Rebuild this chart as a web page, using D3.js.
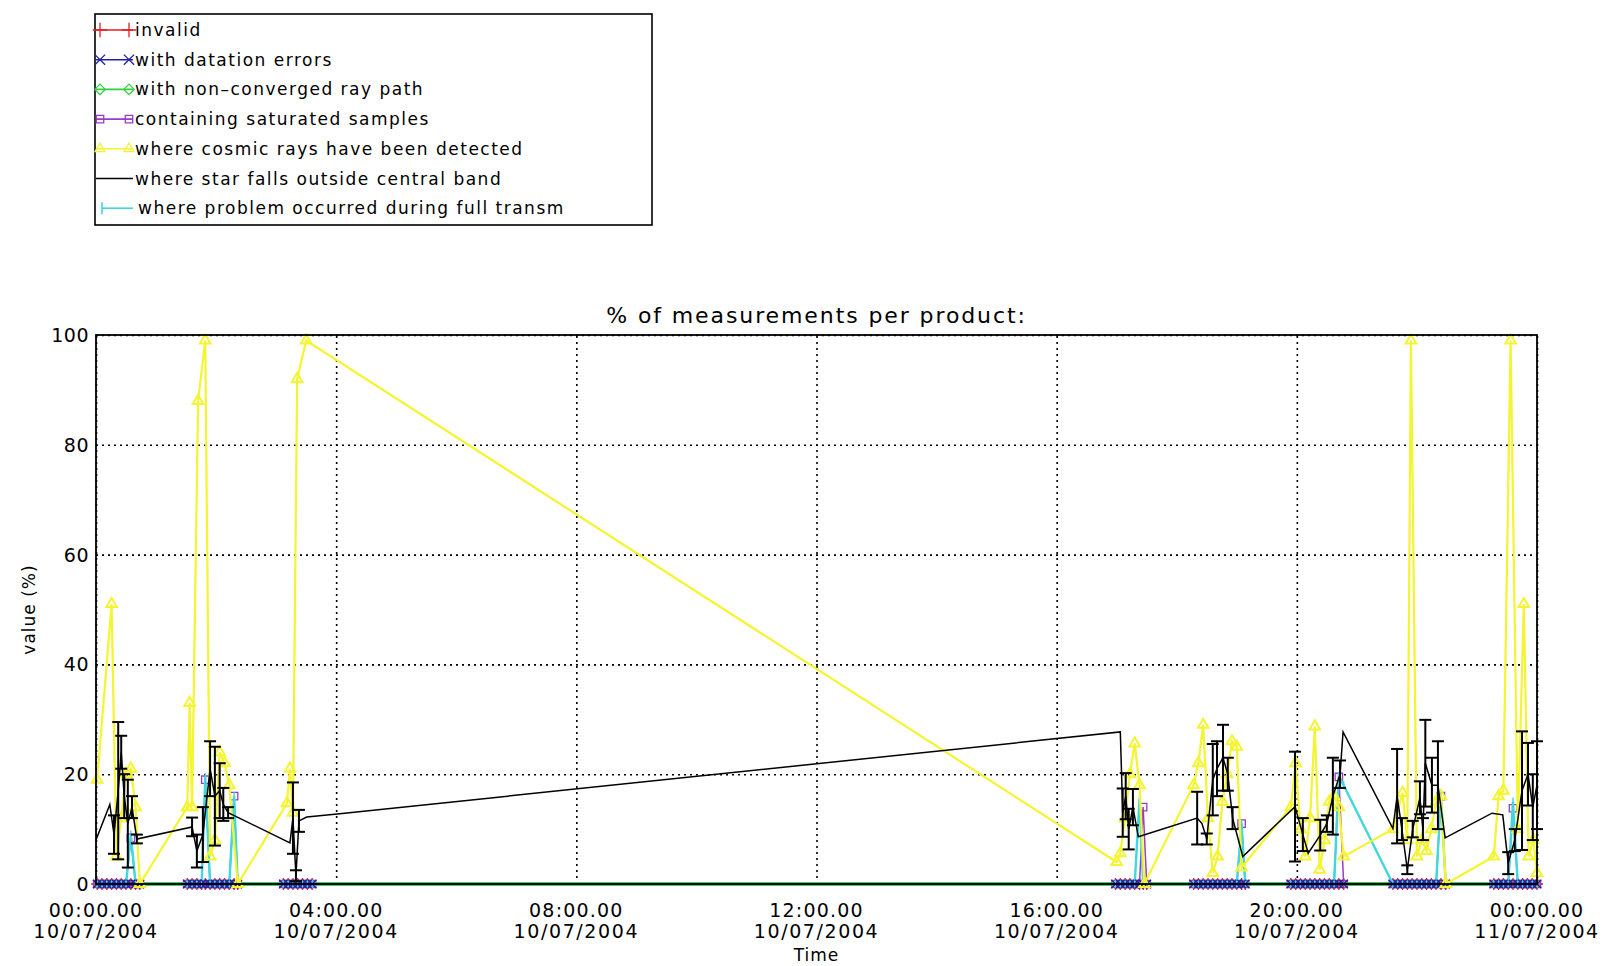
<!DOCTYPE html>
<html>
<head>
<meta charset="utf-8">
<script src="https://cdn.jsdelivr.net/npm/d3@7"></script>
<style>
  body { margin: 0; background: #fff; }
  text { font-family: "DejaVu Sans", sans-serif; fill: #000; }
</style>
</head>
<body>
<div id="root"></div>
<script>
const width = 1607,
      height = 966

// axis labels
const tickHours = [0, 4, 8, 12, 16, 20, 24]
const tickClock = ['00:00.00', '04:00.00', '08:00.00', '12:00.00', '16:00.00', '20:00.00', '00:00.00']
const tickDay = ['10/07/2004', '10/07/2004', '10/07/2004', '10/07/2004', '10/07/2004', '10/07/2004', '11/07/2004']
const valueTicks = [0, 20, 40, 60, 80, 100]

// hours of each product (invalid / datation / ray path read 0 everywhere)
const sampleHours = [
  0.02, 0.10, 0.18, 0.26, 0.34, 0.42, 0.50, 0.58, 0.66, 0.73,
  1.52, 1.60, 1.68, 1.76, 1.82, 1.90, 1.98, 2.06, 2.14, 2.22, 2.30, 2.36,
  3.12, 3.20, 3.28, 3.36, 3.44, 3.52, 3.60,
  16.98, 17.06, 17.14, 17.22, 17.30, 17.38, 17.44, 17.50,
  18.28, 18.36, 18.44, 18.52, 18.60, 18.68, 18.76, 18.84, 18.92, 19.00, 19.08, 19.14,
  19.90, 19.98, 20.06, 20.14, 20.22, 20.30, 20.38, 20.46, 20.54, 20.62, 20.70, 20.78,
  21.60, 21.68, 21.76, 21.84, 21.92, 22.00, 22.08, 22.16, 22.24, 22.32, 22.40, 22.48,
  23.28, 23.36, 23.44, 23.52, 23.60, 23.68, 23.76, 23.84, 23.92, 24.00
]

// non-zero products, [hour, %]
const saturatedPeaks = [[0.58, 8.4], [1.82, 19], [2.30, 16], [17.44, 14], [19.08, 11], [20.70, 19.5], [22.40, 16], [23.60, 13.8]]
const transmPeaks = [[0.58, 9], [1.82, 19.5], [2.30, 16], [17.38, 15.5], [19.08, 11], [20.70, 19.7], [20.78, 18], [22.40, 16], [23.60, 15]]

// cosmic rays, [hour, %]
const cosmicRays = [
  [0.02, 19], [0.26, 51], [0.34, 5], [0.42, 12], [0.50, 20], [0.58, 21], [0.66, 14], [0.73, 0],
  [1.52, 14], [1.56, 33], [1.60, 14], [1.70, 88], [1.82, 99], [1.90, 5], [1.98, 8], [2.06, 24], [2.14, 22], [2.22, 18], [2.36, 0],
  [3.18, 14.7], [3.23, 21], [3.28, 13], [3.35, 92], [3.50, 99],
  [17.0, 4], [17.06, 5.6], [17.14, 12], [17.22, 20], [17.30, 25.6], [17.38, 18], [17.46, 0],
  [18.28, 18], [18.36, 22], [18.44, 29], [18.52, 12], [18.60, 2], [18.68, 5], [18.76, 15], [18.84, 20], [18.92, 26], [19.00, 25], [19.08, 3],
  [19.90, 14], [19.98, 22], [20.06, 10], [20.14, 5], [20.22, 12], [20.30, 28.7], [20.38, 2.6], [20.46, 8], [20.54, 15], [20.62, 16], [20.70, 14], [20.78, 5],
  [21.60, 10], [21.76, 16.6], [21.84, 8], [21.90, 99], [22.00, 5], [22.08, 8], [22.16, 6], [22.24, 10], [22.32, 15], [22.40, 16], [22.48, 0],
  [23.28, 5], [23.36, 16], [23.44, 17], [23.56, 99], [23.68, 10], [23.78, 51], [23.86, 5], [23.94, 8], [24.0, 2]
]

// star outside central band, [hour, %, error]
const starOutside = [
  [0.00, 8.0, 0], [0.23, 14.5, 0], [0.30, 9.0, 3.5], [0.37, 17.0, 12.5], [0.42, 24.0, 3.0], [0.47, 16.0, 4.0],
  [0.53, 11.0, 8.0], [0.60, 14.0, 2.0], [0.68, 8.2, 0.8],
  [1.60, 10.4, 1.7], [1.68, 6.0, 3.0], [1.78, 9.0, 5.0], [1.90, 21.0, 5.0], [1.98, 16.0, 9.0], [2.06, 17.0, 5.0],
  [2.12, 14.5, 3.0], [2.20, 13.0, 1.0],
  [3.23, 7.5, 0], [3.28, 12.0, 6.5], [3.33, 1.5, 1.0], [3.38, 11.5, 2.0], [3.51, 12.2, 0], [4.06, 12.8, 0],
  [17.06, 27.7, 0], [17.10, 13.0, 4.4], [17.15, 16.0, 4.2], [17.20, 10.0, 3.7], [17.27, 14.0, 3.3], [17.36, 8.6, 0],
  [18.34, 12.0, 4.8], [18.42, 11.0, 0], [18.50, 8.2, 1.0], [18.60, 19.0, 6.5], [18.67, 21.0, 5.0], [18.77, 23.0, 6.0],
  [18.85, 20.0, 3.0], [18.93, 12.0, 2.0], [19.10, 5.0, 0],
  [19.97, 14.1, 10.0], [20.10, 9.0, 3.0], [20.19, 5.6, 0], [20.39, 8.9, 2.8], [20.50, 11.0, 1.5], [20.60, 16.0, 7.0],
  [20.72, 20.0, 2.5], [20.77, 27.7, 0],
  [21.60, 10.1, 0], [21.67, 16.0, 8.6], [21.75, 10.0, 2.0], [21.84, 2.6, 0.8], [21.93, 10.0, 1.5], [22.05, 15.7, 3.0],
  [22.10, 10.0, 2.0], [22.14, 22.0, 7.9], [22.25, 18.0, 5.0], [22.35, 18.0, 8.0], [22.47, 8.4, 0],
  [23.25, 12.9, 0], [23.43, 12.6, 0], [23.52, 3.8, 2.0], [23.63, 8.0, 2.0], [23.75, 17.0, 10.8], [23.85, 20.0, 5.7],
  [23.93, 14.0, 6.0], [24.0, 18.0, 8.0]
]

const legendLabels = [
  'invalid',
  'with datation errors',
  'with non\u2013converged ray path',
  'containing saturated samples',
  'where cosmic rays have been detected',
  'where star falls outside central band',
  'where problem occurred during full transm'
]

const colors = {
  invalid: '#e02020',
  datation: '#2020a0',
  raypath: '#30d040',
  saturated: '#9a3cc8',
  cosmic: '#f4f430',
  star: '#000000',
  transm: '#40d8e0'
}

const margin = { left: 96, right: 70, top: 335, bottom: 82 }

const svg = d3.select('#root')
  .append('svg')
  .attr('width', width)
  .attr('height', height)

const x = d3.scaleLinear()
  .domain([0, 24])
  .range([margin.left, width - margin.right])

const y = d3.scaleLinear()
  .domain([0, 100])
  .range([height - margin.bottom, margin.top])

// grid
svg.append('g')
  .attr('transform', `translate(0,${y(0)})`)
  .call(d3.axisBottom(x).tickValues(tickHours).tickSize(-(y(0) - y(100))).tickFormat(''))
  .call(g => g.select('.domain').remove())
  .selectAll('line')
  .attr('stroke', '#000')
  .attr('stroke-width', 1.6)
  .attr('stroke-dasharray', '2,4')

svg.append('g')
  .attr('transform', `translate(${x(0)},0)`)
  .call(d3.axisLeft(y).tickValues(valueTicks).tickSize(-(x(24) - x(0))).tickFormat(''))
  .call(g => g.select('.domain').remove())
  .selectAll('line')
  .attr('stroke', '#000')
  .attr('stroke-width', 1.6)
  .attr('stroke-dasharray', '2,4')

// tick labels
svg.append('g').selectAll('text')
  .data(valueTicks)
  .enter().append('text')
  .attr('x', x(0) - 7)
  .attr('y', d => y(d) + 7)
  .attr('text-anchor', 'end')
  .attr('font-size', 19)
  .attr('letter-spacing', 0.5)
  .text(d => d)

const xl = svg.append('g').selectAll('g')
  .data(tickHours)
  .enter().append('g')
  .attr('transform', d => `translate(${x(d)},0)`)
xl.append('text')
  .attr('y', 917)
  .attr('text-anchor', 'middle')
  .attr('font-size', 19)
  .attr('letter-spacing', 1.2)
  .text((d, i) => tickClock[i])
xl.append('text')
  .attr('y', 938)
  .attr('text-anchor', 'middle')
  .attr('font-size', 19)
  .attr('letter-spacing', 1.6)
  .text((d, i) => tickDay[i])

svg.append('text')
  .attr('x', (x(0) + x(24)) / 2)
  .attr('y', 961)
  .attr('text-anchor', 'middle')
  .attr('font-size', 17)
  .attr('letter-spacing', 1)
  .text('Time')

svg.append('text')
  .attr('transform', `translate(35,${(y(0) + y(100)) / 2}) rotate(-90)`)
  .attr('text-anchor', 'middle')
  .attr('font-size', 17)
  .attr('letter-spacing', 1)
  .text('value (%)')

svg.append('text')
  .attr('x', (x(0) + x(24)) / 2)
  .attr('y', 323)
  .attr('text-anchor', 'middle')
  .attr('font-size', 22)
  .attr('letter-spacing', 1.9)
  .text('% of measurements per product:')

// series
const line = d3.line().x(d => x(d[0])).y(d => y(d[1]))
const plot = svg.append('g')

const peakOf = peaks => {
  const m = new Map(peaks)
  return sampleHours.map(h => [h, m.has(h) ? m.get(h) : 0])
}
const zeroSeries = sampleHours.map(h => [h, 0])

const symbols = {
  invalid: d3.symbolPlus,
  datation: d3.symbolTimes,
  raypath: d3.symbolDiamond2,
  saturated: d3.symbolSquare2,
  cosmic: d3.symbolTriangle2
}

function drawSeries(data, key, lw, size) {
  plot.append('path')
    .datum(data)
    .attr('fill', 'none')
    .attr('stroke', colors[key])
    .attr('stroke-width', lw)
    .attr('d', line)
  if (symbols[key]) {
    plot.append('g').selectAll('path')
      .data(data)
      .enter().append('path')
      .attr('transform', d => `translate(${x(d[0])},${y(d[1])})`)
      .attr('d', d3.symbol(symbols[key], size))
      .attr('fill', 'none')
      .attr('stroke', colors[key])
      .attr('stroke-width', key === 'cosmic' ? 2 : 1.3)
  }
}

drawSeries(zeroSeries, 'raypath', 4, 50)
drawSeries(zeroSeries, 'invalid', 2, 50)
drawSeries(peakOf(saturatedPeaks), 'saturated', 1.5, 70)

// transmission problems (cyan), over the saturated line
const transm = peakOf(transmPeaks)
plot.append('path')
  .datum(transm)
  .attr('fill', 'none')
  .attr('stroke', colors.transm)
  .attr('stroke-width', 2.4)
  .attr('d', line)
plot.append('g').selectAll('line')
  .data(transm)
  .enter().append('line')
  .attr('x1', d => x(d[0])).attr('x2', d => x(d[0]))
  .attr('y1', d => y(d[1]) - 4).attr('y2', d => y(d[1]) + 4)
  .attr('stroke', colors.transm)
  .attr('stroke-width', 1.5)

drawSeries(zeroSeries, 'datation', 2.2, 50)
drawSeries(cosmicRays, 'cosmic', 2.2, 80)

// black line with error bars
plot.append('path')
  .datum(starOutside)
  .attr('fill', 'none')
  .attr('stroke', colors.star)
  .attr('stroke-width', 1.5)
  .attr('d', line)

const eb = plot.append('g').selectAll('g')
  .data(starOutside.filter(d => d[2] > 0))
  .enter().append('g')
  .attr('stroke', colors.star)
  .attr('stroke-width', 2)
eb.append('line')
  .attr('x1', d => x(d[0])).attr('x2', d => x(d[0]))
  .attr('y1', d => y(d[1] - d[2])).attr('y2', d => y(d[1] + d[2]))
eb.append('line')
  .attr('x1', d => x(d[0]) - 6).attr('x2', d => x(d[0]) + 6)
  .attr('y1', d => y(d[1] + d[2])).attr('y2', d => y(d[1] + d[2]))
eb.append('line')
  .attr('x1', d => x(d[0]) - 6).attr('x2', d => x(d[0]) + 6)
  .attr('y1', d => y(d[1] - d[2])).attr('y2', d => y(d[1] - d[2]))

// frame
svg.append('rect')
  .attr('x', x(0)).attr('y', y(100))
  .attr('width', x(24) - x(0)).attr('height', y(0) - y(100))
  .attr('fill', 'none')
  .attr('stroke', '#000')
  .attr('stroke-width', 1.8)

// legend
const legend = svg.append('g')
legend.append('rect')
  .attr('x', 95).attr('y', 14)
  .attr('width', 557).attr('height', 211)
  .attr('fill', 'none')
  .attr('stroke', '#000')
  .attr('stroke-width', 1.6)

const legendKeys = ['invalid', 'datation', 'raypath', 'saturated', 'cosmic', 'star', 'transm']
const rows = legend.selectAll('g.row')
  .data(legendKeys)
  .enter().append('g')
  .attr('class', 'row')
  .attr('transform', (d, i) => `translate(0,${30 + i * 29.7})`)

rows.append('line')
  .attr('x1', d => d === 'transm' ? 102 : 96).attr('x2', 133)
  .attr('stroke', d => colors[d])
  .attr('stroke-width', 1.6)
rows.each(function (d) {
  const g = d3.select(this)
  if (symbols[d]) {
    [100, 129].forEach(px => {
      g.append('path')
        .attr('transform', `translate(${px},0)`)
        .attr('d', d3.symbol(symbols[d], 70))
        .attr('fill', 'none')
        .attr('stroke', colors[d])
        .attr('stroke-width', 1.3)
    })
  } else if (d === 'transm') {
    g.append('line').attr('x1', 102).attr('x2', 102).attr('y1', -6).attr('y2', 6)
      .attr('stroke', colors[d]).attr('stroke-width', 1.6)
  }
})
rows.append('text')
  .attr('x', d => d === 'transm' ? 138 : 135)
  .attr('y', 6)
  .attr('font-size', 17)
  .attr('letter-spacing', 1.5)
  .text((d, i) => legendLabels[i])
</script>
</body>
</html>
